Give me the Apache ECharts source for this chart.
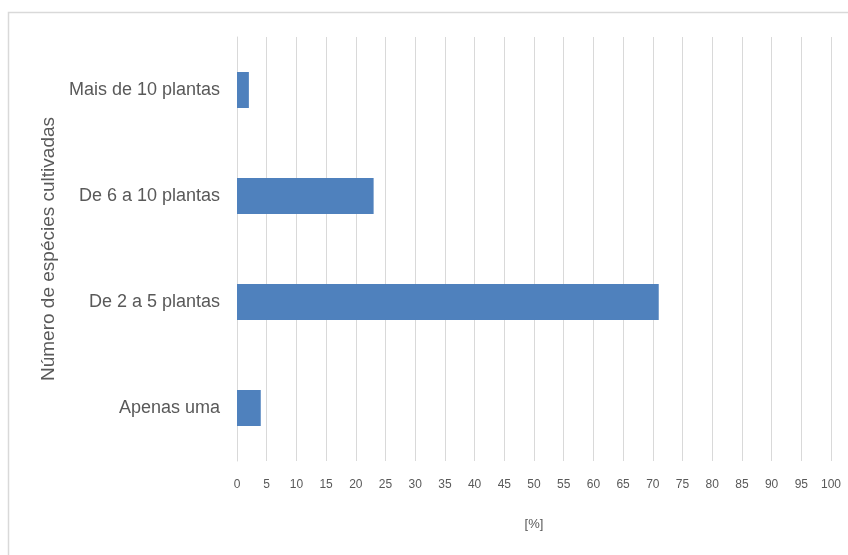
<!DOCTYPE html>
<html>
<head>
<meta charset="utf-8">
<script src="https://cdn.jsdelivr.net/npm/echarts@6/dist/echarts.min.js"></script>
<style>
  html, body { margin: 0; padding: 0; background: #fff; }
  #chart { width: 848px; height: 555px; }
</style>
</head>
<body>
<div id="chart"></div>
<script>
// Número de espécies cultivadas por entrevistado (%)
const categories = ['Apenas uma', 'De 2 a 5 plantas', 'De 6 a 10 plantas', 'Mais de 10 plantas'];
const percentages = [4, 71, 23, 2];
const axisTitleX = '[%]';
const axisTitleY = 'Número de espécies cultivadas';

const chart = echarts.init(document.getElementById('chart'), null, { renderer: 'canvas' });

const fontMain = "'Liberation Sans', Arial, sans-serif";

chart.setOption({
  backgroundColor: '#ffffff',
  animation: false,
  graphic: [{
    type: 'rect',
    shape: { x: 8.5, y: 12.5, width: 900, height: 600 },
    style: { fill: 'none', stroke: '#d9d9d9', lineWidth: 1.5 },
    silent: true
  }],
  grid: { left: 237, right: 17, top: 37, bottom: 94, containLabel: false },
  xAxis: {
    type: 'value',
    min: 0,
    max: 100,
    interval: 5,
    name: axisTitleX,
    nameLocation: 'middle',
    nameGap: 57,
    nameTextStyle: { color: '#595959', fontSize: 13, fontFamily: fontMain },
    axisLine: { show: false },
    axisTick: { show: false },
    axisLabel: { color: '#595959', fontSize: 12, fontFamily: fontMain, margin: 18 },
    splitLine: { show: true, lineStyle: { color: '#d9d9d9', width: 1 } }
  },
  yAxis: {
    type: 'category',
    data: categories,
    name: axisTitleY,
    nameLocation: 'middle',
    nameGap: 178,
    nameRotate: 90,
    nameTextStyle: { color: '#595959', fontSize: 19, fontFamily: fontMain },
    axisLine: { show: true, lineStyle: { color: '#d9d9d9', width: 1 } },
    axisTick: { show: false },
    axisLabel: { color: '#595959', fontSize: 18, fontFamily: fontMain, margin: 17 },
    splitLine: { show: false }
  },
  series: [{
    type: 'bar',
    data: percentages,
    barWidth: 36,
    itemStyle: { color: '#4f81bd' },
    silent: true
  }]
});
</script>
</body>
</html>
